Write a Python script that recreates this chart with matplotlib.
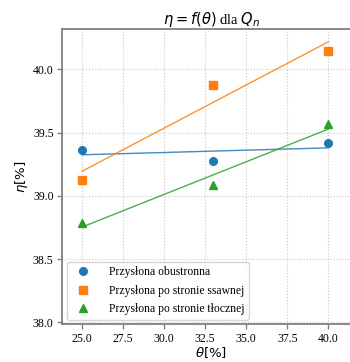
import numpy as np
import matplotlib
matplotlib.use("Agg")
import matplotlib.pyplot as plt

theta = [25.0, 33.0, 40.0]
eta_obustronna = [39.36, 39.28, 39.42]
eta_ssawna = [39.13, 39.88, 40.145]
eta_tloczna = [38.79, 39.09, 39.57]

labels = ["Przysłona obustronna", "Przysłona po stronie ssawnej", "Przysłona po stronie tłocznej"]
series = [eta_obustronna, eta_ssawna, eta_tloczna]
markers = ["o", "s", "^"]
colors = ["#1f77b4", "#ff7f0e", "#2ca02c"]

plt.rcParams["font.family"] = ["Liberation Serif", "DejaVu Serif"]
plt.rcParams["mathtext.fontset"] = "dejavusans"

fig = plt.figure(figsize=(3.5, 3.62), dpi=100)
ax = fig.add_axes([0.177, 0.104, 0.853, 0.816])

x = np.array(theta)
for y, lab, m, c in zip(series, labels, markers, colors):
    ax.plot(x, y, linestyle="none", marker=m, color=c, markersize=5.5, label=lab, zorder=3)
    k, b = np.polyfit(x, y, 1)
    ax.plot(x, k * x + b, color=c, linewidth=1.0, alpha=0.85, zorder=2)

ax.set_xlim(23.78, 41.95)
ax.set_ylim(37.985, 40.32)
ax.set_xticks([25.0, 27.5, 30.0, 32.5, 35.0, 37.5, 40.0])
ax.set_yticks([38.0, 38.5, 39.0, 39.5, 40.0])
ax.tick_params(labelsize=8.5, color="#808080", length=3.5, width=1.0, pad=2.5)
ax.grid(True, linestyle=":", color="#c8c8c8", linewidth=0.8)
for s in ax.spines.values():
    s.set_color("#808080")
    s.set_linewidth(1.3)

ax.set_xlabel(r"$\theta [\%]$", fontsize=9.5, labelpad=0)
ax.set_ylabel(r"$\eta [\%]$", fontsize=9.5, labelpad=2)
ax.set_title(r"$\eta = f(\theta)$ dla $Q_n$", fontsize=10.5, pad=3)

ax.legend(loc="lower left", fontsize=8.4, frameon=True, handletextpad=1.2,
          borderaxespad=0.4, labelspacing=0.55)

fig.savefig("out.png", dpi=100)
